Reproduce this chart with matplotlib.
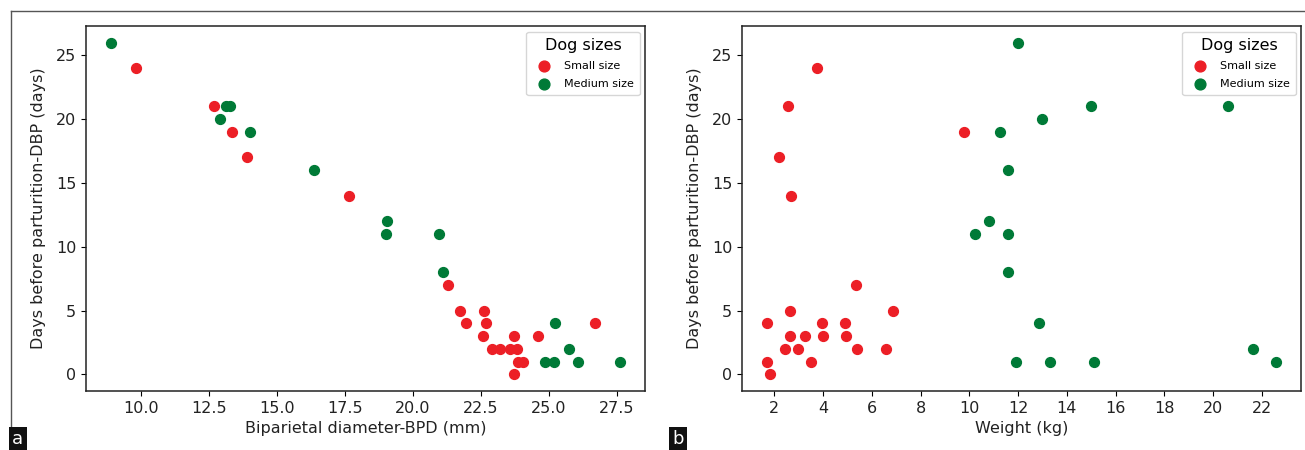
import matplotlib
matplotlib.use('Agg')
import matplotlib.pyplot as plt
from matplotlib.ticker import MultipleLocator
from matplotlib.lines import Line2D

# panel a: BPD (mm) vs days before parturition
bpd_small = [9.81, 12.70, 13.33, 13.90, 17.64, 21.28, 21.72, 22.60, 21.96, 22.70, 26.69,
             22.58, 23.73, 24.59, 22.89, 23.20, 23.57, 23.81, 23.86, 24.03, 23.73]
dbp_small_a = [24, 21, 19, 17, 14, 7, 5, 5, 4, 4, 4,
               3, 3, 3, 2, 2, 2, 2, 1, 1, 0]
bpd_medium = [8.91, 13.14, 13.26, 12.91, 14.00, 16.35, 19.03, 19.01, 20.94, 21.09,
              25.22, 25.75, 24.85, 25.20, 26.07, 27.60]
dbp_medium_a = [26, 21, 21, 20, 19, 16, 12, 11, 11, 8,
                4, 2, 1, 1, 1, 1]

# panel b: weight (kg) vs days before parturition
weight_small = [3.77, 2.57, 9.80, 2.20, 2.70, 5.35, 2.64, 6.85, 1.72, 3.97, 4.90,
                2.64, 3.26, 4.01, 4.94, 2.45, 2.96, 5.40, 6.60, 1.72, 3.51, 1.81]
dbp_small_b = [24, 21, 19, 17, 14, 7, 5, 5, 4, 4, 4,
               3, 3, 3, 3, 2, 2, 2, 2, 1, 1, 0]
weight_medium = [12.0, 15.0, 20.6, 12.96, 11.25, 11.6, 10.8, 10.25, 11.6, 11.6,
                 12.85, 21.65, 11.9, 13.3, 15.1, 22.56]
dbp_medium_b = [26, 21, 21, 20, 19, 16, 12, 11, 11, 8,
                4, 2, 1, 1, 1, 1]

red = '#ec1f26'
green = '#007a37'

fig = plt.figure(figsize=(13.05, 4.5), dpi=100)
ax1 = fig.add_axes([0.0659, 0.1311, 0.4284, 0.8111])
ax2 = fig.add_axes([0.5686, 0.1311, 0.4284, 0.8111])

panels = [
    (ax1, bpd_small, dbp_small_a, bpd_medium, dbp_medium_a, 'Biparietal diameter-BPD (mm)'),
    (ax2, weight_small, dbp_small_b, weight_medium, dbp_medium_b, 'Weight (kg)'),
]

for ax, xs, ys, xm, ym, xlabel in panels:
    ax.scatter(xs, ys, s=50, color=red, label='Small size', zorder=3)
    ax.scatter(xm, ym, s=50, color=green, label='Medium size', zorder=3)
    ax.set_xlabel(xlabel, fontsize=11.5, color='#222222')
    ax.set_ylabel('Days before parturition-DBP (days)', fontsize=11.5, color='#222222', labelpad=7)
    ax.yaxis.set_major_locator(MultipleLocator(5))
    ax.tick_params(labelsize=11.5, labelcolor='#222222')
    for sp in ax.spines.values():
        sp.set_linewidth(1.1)
        sp.set_color('#222222')
    ax.legend(title='Dog sizes', loc='upper right', fontsize=8, title_fontsize=11.5,
              labelspacing=0.75, borderpad=0.55, markerscale=1.1)

ax2.xaxis.set_major_locator(MultipleLocator(2))

# outer frame lines
fig.add_artist(Line2D([11 / 1305, 1], [1 - 11 / 450, 1 - 11 / 450], color='#555555', lw=1.0))
fig.add_artist(Line2D([11 / 1305, 11 / 1305], [0, 1 - 11 / 450], color='#555555', lw=1.0))

# panel letters
for xpix, letter in [(12, 'a'), (672, 'b')]:
    fig.text(xpix / 1305, 2 / 450, letter, color='white', fontsize=13, ha='left', va='bottom',
             bbox=dict(facecolor='#111111', edgecolor='none', pad=2.5))

fig.savefig('out.png', dpi=100)
